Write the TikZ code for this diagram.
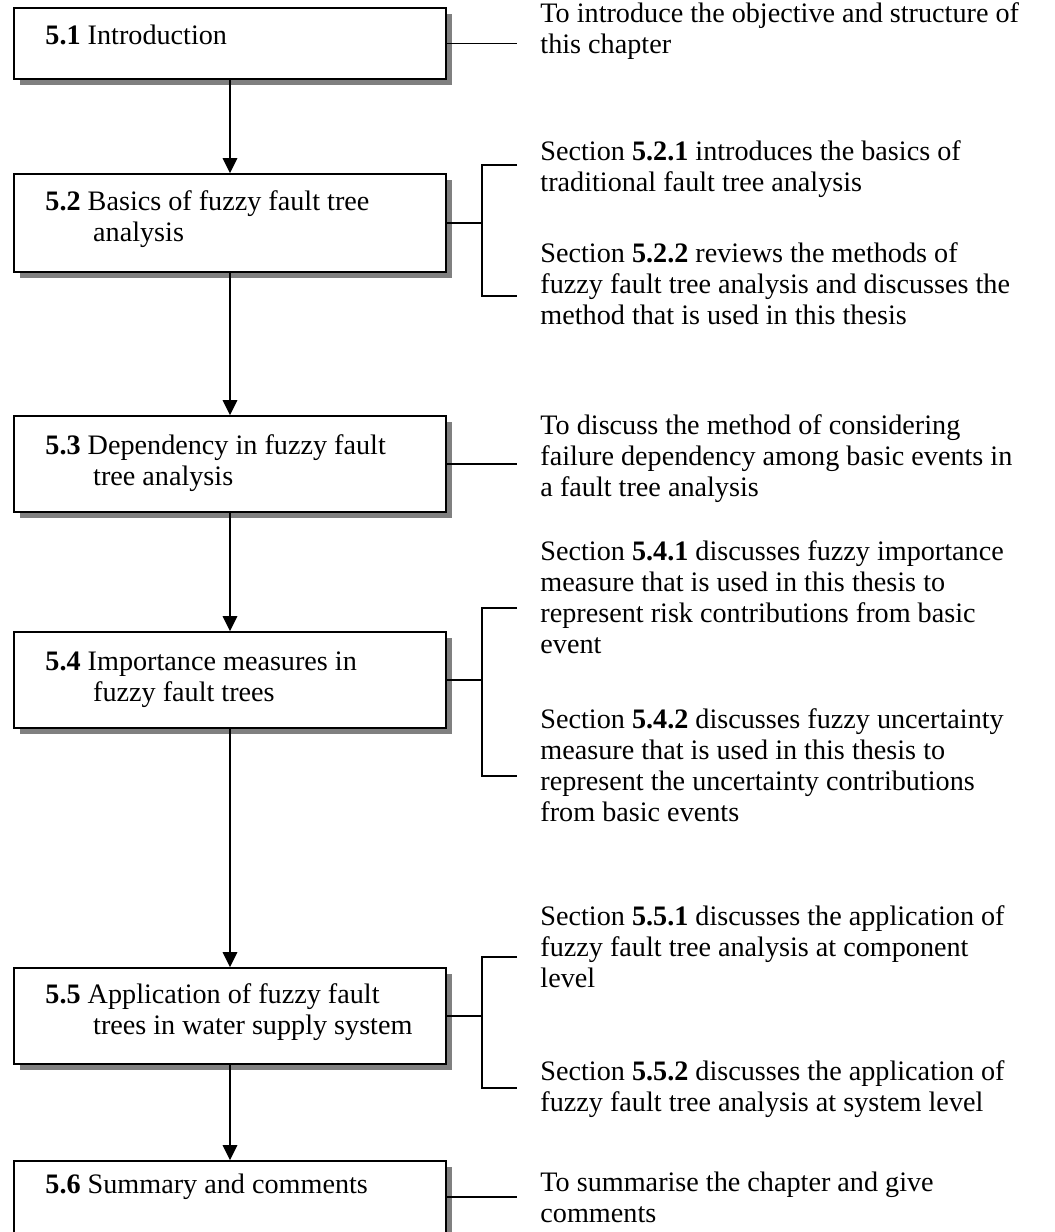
\documentclass[tikz,border=0pt]{standalone}
\usepackage{fontspec}
\setmainfont{Liberation Serif}
\usetikzlibrary{arrows.meta,shadows}
\begin{document}
\begin{tikzpicture}[x=0.44pt,y=-0.44pt,
  box/.style={draw=black, line width=0.8pt, fill=white, minimum width={432*0.44pt}, inner sep=0pt,
    drop shadow={shadow xshift=2.6pt, shadow yshift=-2.6pt, fill=black!50, opacity=1}},
  boxtext/.style={anchor=base west, inner sep=0pt, align=left, font=\fontsize{12.4}{13.64}\selectfont},
  sidetext/.style={anchor=base west, inner sep=0pt, align=left, font=\fontsize{12.4}{13.64}\selectfont},
  arr/.style={line width=0.65pt, -{Triangle[length=6.6pt,width=6.4pt]}},
  conn/.style={line width=0.65pt}]
\useasboundingbox (0,0) rectangle (1055,1232);
% boxes
\node[box, minimum height={71*0.44pt}] (b1) at (230,43.5) {};
\node[box, minimum height={98*0.44pt}] (b2) at (230,223) {};
\node[box, minimum height={96*0.44pt}] (b3) at (230,464) {};
\node[box, minimum height={96*0.44pt}] (b4) at (230,680) {};
\node[box, minimum height={96*0.44pt}] (b5) at (230,1016) {};
\node[box, minimum height={72*0.44pt}] (b6) at (230,1197) {};
% box texts (anchor = baseline of last line)
\node[boxtext] (tb1) at (45,44) {\textbf{5.1} Introduction};
\node[boxtext] (tb2) at (45,241) {\textbf{5.2} Basics of fuzzy fault tree\\\hspace*{21pt}analysis};
\node[boxtext] (tb3) at (45,485) {\textbf{5.3} Dependency in fuzzy fault\\\hspace*{21pt}tree analysis};
\node[boxtext] (tb4) at (45,701) {\textbf{5.4} Importance measures in\\\hspace*{21pt}fuzzy fault trees};
\node[boxtext] (tb5) at (45,1034) {\textbf{5.5} Application of fuzzy fault\\\hspace*{21pt}trees in water supply system};
\node[boxtext] (tb6) at (45,1193) {\textbf{5.6} Summary and comments};
% arrows
\draw[arr] (b1.south) -- (b2.north);
\draw[arr] (b2.south) -- (b3.north);
\draw[arr] (b3.south) -- (b4.north);
\draw[arr] (b4.south) -- (b5.north);
\draw[arr] (b5.south) -- (b6.north);
% side texts (anchor = baseline of last line)
\node[sidetext] (s1) at (540,53) {To introduce the objective and structure of\\this chapter};
\node[sidetext] (s21) at (540,191) {Section \textbf{5.2.1} introduces the basics of\\traditional fault tree analysis};
\node[sidetext] (s22) at (540,324) {Section \textbf{5.2.2} reviews the methods of\\fuzzy fault tree analysis and discusses the\\method that is used in this thesis};
\node[sidetext] (s3) at (540,496) {To discuss the method of considering\\failure dependency among basic events in\\a fault tree analysis};
\node[sidetext] (s41) at (540,653) {Section \textbf{5.4.1} discusses fuzzy importance\\measure that is used in this thesis to\\represent risk contributions from basic\\event};
\node[sidetext] (s42) at (540,821) {Section \textbf{5.4.2} discusses fuzzy uncertainty\\measure that is used in this thesis to\\represent the uncertainty contributions\\from basic events};
\node[sidetext] (s51) at (540,987) {Section \textbf{5.5.1} discusses the application of\\fuzzy fault tree analysis at component\\level};
\node[sidetext] (s52) at (540,1111) {Section \textbf{5.5.2} discusses the application of\\fuzzy fault tree analysis at system level};
\node[sidetext] (s6) at (540,1222) {To summarise the chapter and give\\comments};
% connector coordinates
\coordinate (e1) at (517,43.5);
\coordinate (e3) at (517,464);
\coordinate (e6) at (517,1197);
\coordinate (k2) at (482,223);
\coordinate (k2a) at (482,165);
\coordinate (k2b) at (482,296);
\coordinate (e2a) at (517,165);
\coordinate (e2b) at (517,296);
\coordinate (k4) at (482,680);
\coordinate (k4a) at (482,608);
\coordinate (k4b) at (482,776);
\coordinate (e4a) at (517,608);
\coordinate (e4b) at (517,776);
\coordinate (k5) at (482,1016);
\coordinate (k5a) at (482,957);
\coordinate (k5b) at (482,1088);
\coordinate (e5a) at (517,957);
\coordinate (e5b) at (517,1088);
% connectors
\draw[conn] (b1.east) -- (e1);
\draw[conn] (b3.east) -- (e3);
\draw[conn] (b6.east) -- (e6);
\draw[conn] (b2.east) -- (k2);
\draw[conn] (e2a) -- (k2a) -- (k2b) -- (e2b);
\draw[conn] (b4.east) -- (k4);
\draw[conn] (e4a) -- (k4a) -- (k4b) -- (e4b);
\draw[conn] (b5.east) -- (k5);
\draw[conn] (e5a) -- (k5a) -- (k5b) -- (e5b);
\end{tikzpicture}
\end{document}
